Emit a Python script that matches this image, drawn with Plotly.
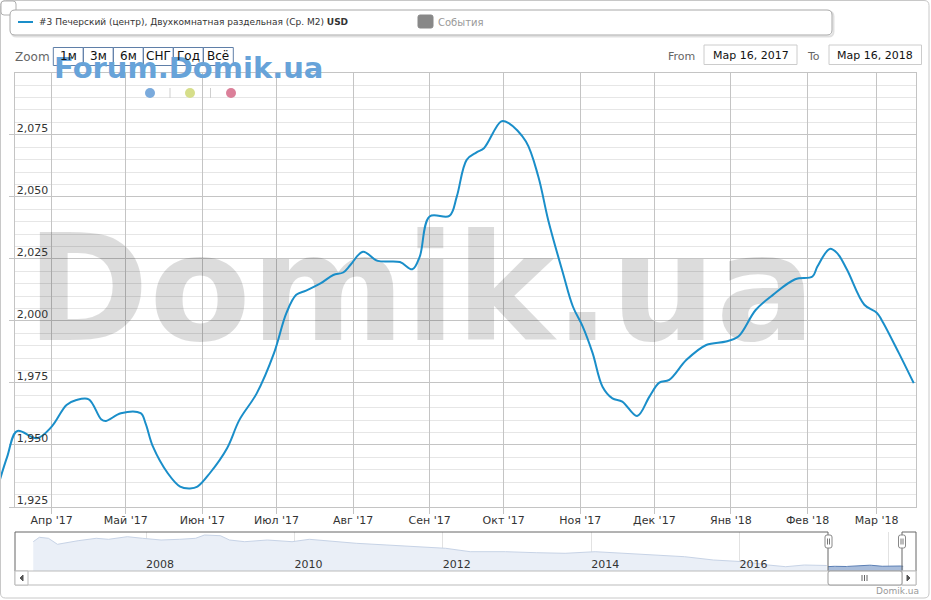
import plotly.graph_objects as go
import pandas as pd

# ---------------- data ----------------
dates = [
    "2017-03-11", "2017-03-14", "2017-03-18", "2017-03-26", "2017-04-01", "2017-04-07", "2017-04-11", "2017-04-16",
    "2017-04-21", "2017-04-23", "2017-04-29", "2017-05-07", "2017-05-09", "2017-05-12", "2017-05-18", "2017-05-23",
    "2017-05-27", "2017-05-30", "2017-06-04", "2017-06-11", "2017-06-16", "2017-06-23", "2017-06-30", "2017-07-05",
    "2017-07-09", "2017-07-13", "2017-07-19", "2017-07-24", "2017-07-28", "2017-07-31", "2017-08-05", "2017-08-11",
    "2017-08-20", "2017-08-25", "2017-08-28", "2017-09-01", "2017-09-09", "2017-09-12", "2017-09-16", "2017-09-20",
    "2017-09-23", "2017-09-30", "2017-10-03", "2017-10-10", "2017-10-15", "2017-10-19", "2017-10-25", "2017-10-29",
    "2017-11-02", "2017-11-06", "2017-11-10", "2017-11-14", "2017-11-18", "2017-11-24", "2017-11-29", "2017-12-03",
    "2017-12-07", "2017-12-14", "2017-12-22", "2017-12-30", "2018-01-04", "2018-01-11", "2018-01-18", "2018-01-27",
    "2018-02-03", "2018-02-05", "2018-02-10", "2018-02-13", "2018-02-17", "2018-02-24", "2018-03-01", "2018-03-03",
    "2018-03-10", "2018-03-16"]
prices = [
    1935.9, 1945.3, 1955.6, 1952.7, 1957.4, 1966.1, 1968.1, 1968.4,
    1960.4, 1959.7, 1962.8, 1962.8, 1958.7, 1949.3, 1938.6, 1933.2,
    1932.5, 1933.2, 1938.6, 1948.7, 1960.1, 1970.8, 1987.0, 2003.1,
    2010.5, 2012.2, 2015.2, 2018.5, 2019.5, 2022.6, 2027.9, 2024.2,
    2023.7, 2020.8, 2025.9, 2042.1, 2042.3, 2050.1, 2064.9, 2067.9,
    2069.6, 2080.4, 2079.7, 2072.3, 2058.2, 2040.7, 2019.2, 2005.8,
    1997.7, 1987.0, 1973.5, 1968.8, 1967.5, 1961.7, 1969.5, 1975.1,
    1976.2, 1984.3, 1990.3, 1991.7, 1993.7, 2004.4, 2010.5, 2016.8,
    2017.9, 2021.9, 2029.0, 2027.3, 2020.6, 2006.5, 2003.3, 2000.4,
    1987.0, 1974.9]

nav_dates = [
    "2006-06-25", "2006-07-25", "2006-09-08", "2006-10-22", "2007-02-01", "2007-05-01", "2007-07-01", "2007-10-01",
    "2007-12-15", "2008-03-15", "2008-06-15", "2008-09-01", "2008-10-15", "2009-01-01", "2009-02-15", "2009-05-01",
    "2009-08-20", "2009-12-20", "2010-03-15", "2010-06-10", "2010-11-01", "2011-04-01", "2011-08-25", "2012-01-15",
    "2012-05-15", "2012-11-05", "2013-04-05", "2013-08-25", "2014-01-20", "2014-06-01", "2014-11-10", "2015-04-05",
    "2015-08-25", "2016-01-20", "2016-05-20", "2016-08-15", "2016-11-15", "2017-03-05"]
nav_prices = [
    4430, 4870, 4770, 4170, 4530, 4770, 4670, 4930,
    4770, 4600, 4670, 4770, 5100, 5030, 4600, 4430,
    4600, 4430, 4670, 4500, 4270, 4100, 3930, 3770,
    3430, 3430, 3330, 3270, 3430, 3270, 3100, 2930,
    2600, 2430, 2100, 1930, 2100, 2050]

month_ticks = ["2017-04-01", "2017-05-01", "2017-06-01", "2017-07-01", "2017-08-01", "2017-09-01",
               "2017-10-01", "2017-11-01", "2017-12-01", "2018-01-01", "2018-02-01", "2018-03-01"]
month_labels = ["Апр '17", "Май '17", "Июн '17", "Июл '17", "Авг '17", "Сен '17",
                "Окт '17", "Ноя '17", "Дек '17", "Янв '18", "Фев '18", "Мар '18"]
year_ticks = ["2008-01-01", "2010-01-01", "2012-01-01", "2014-01-01", "2016-01-01", "2018-01-01"]
year_labels = ["2008", "2010", "2012", "2014", "2016", "2018"]
zoom_buttons = ["1м", "3м", "6м", "СНГ", "Год", "Всё"]
date_from, date_to = "Мар 16, 2017", "Мар 16, 2018"
series_name = "#3 Печерский (центр), Двухкомнатная раздельная (Ср. М2) <b>USD</b>"

# ---------------- layout helpers ----------------
W, H = 931, 600
FONT = "DejaVu Sans"
LINE = "#1a8ec9"


def X(p):
    return p / W


def Y(p):
    return 1 - p / H


APR1 = pd.Timestamp("2017-04-01")
APR1_X, PX_DAY = 51.7, 2.47


def xdate(px):
    return APR1 + pd.Timedelta(days=(px - APR1_X) / PX_DAY)


Y2008 = pd.Timestamp("2008-01-01")
Y2008_X, PX_YEAR = 146, 74.2


def navdate(px):
    return Y2008 + pd.Timedelta(days=(px - Y2008_X) / PX_YEAR * 365.25)


Y_RANGE = [1925, 2099.9]

fig = go.Figure()

# big background watermark (drawn first -> below the line)
fig.add_trace(go.Scatter(
    x=[xdate(421)], y=[Y_RANGE[0] + (Y_RANGE[1] - Y_RANGE[0]) * 0.47], mode="text", text=["Domik.ua"],
    textposition="middle center",
    textfont=dict(family=FONT, size=148, color="rgba(0,0,0,0.137)", weight="bold"),
    hoverinfo="skip", showlegend=False))

fig.add_trace(go.Scatter(
    x=dates, y=prices, mode="lines",
    line=dict(color=LINE, width=2, shape="spline", smoothing=1, simplify=False),
    hoverinfo="skip", showlegend=False))

# part of the line that overflows left of the plot area
fig.add_trace(go.Scatter(
    x=dates[:10], y=prices[:10], mode="lines", xaxis="x3", yaxis="y3",
    line=dict(color=LINE, width=2, shape="spline", smoothing=1, simplify=False),
    hoverinfo="skip", showlegend=False))

# navigator
fig.add_trace(go.Scatter(
    x=nav_dates, y=nav_prices, mode="lines", xaxis="x2", yaxis="y2", fill="tozeroy",
    fillcolor="#eaeff7", line=dict(color="#c7d3e6", width=1),
    hoverinfo="skip", showlegend=False))
fig.add_trace(go.Scatter(
    x=dates, y=prices, mode="lines", xaxis="x2", yaxis="y2", fill="tozeroy",
    fillcolor="#a9bddb", line=dict(color="#5b7fb5", width=1),
    hoverinfo="skip", showlegend=False))

tickfont = dict(family=FONT, size=11, color="#333333")
GRID = "#c4c4c4"

fig.update_layout(
    width=W, height=H, autosize=False,
    margin=dict(l=0, r=0, t=0, b=0),
    paper_bgcolor="white", plot_bgcolor="white",
    showlegend=False,
    xaxis=dict(domain=[X(15), X(916)], range=[xdate(15), xdate(916)], type="date",
               tickmode="array", tickvals=month_ticks, ticktext=month_labels,
               showgrid=True, gridcolor=GRID, gridwidth=1,
               ticks="outside", ticklen=6, tickcolor=GRID,
               showline=True, linecolor=GRID, mirror=True, ticklabelstandoff=-3,
               tickfont=tickfont, zeroline=False, anchor="y", fixedrange=True),
    yaxis=dict(domain=[Y(507), Y(73)], range=Y_RANGE, tickmode="linear", tick0=1925, dtick=25,
               tickformat=",d", showgrid=True, gridcolor=GRID,
               minor=dict(tick0=1925, dtick=5, showgrid=True, gridcolor="#e6e6e6"),
               ticks="outside", ticklen=5, tickcolor=GRID,
               showline=True, linecolor=GRID, mirror=True,
               ticklabelposition="inside", ticklabelshift=-7, ticklabelstandoff=1,
               tickfont=tickfont, zeroline=False, anchor="x", fixedrange=True),
    xaxis2=dict(domain=[X(15), X(916)], range=[navdate(15), navdate(916)], type="date",
                tickmode="array", tickvals=year_ticks, ticktext=year_labels,
                ticklabelposition="inside right", ticklabelstandoff=-5,
                showgrid=True, gridcolor="#e2e2e2",
                ticks="", showline=False, zeroline=False, anchor="y2",
                tickfont=tickfont, fixedrange=True),
    yaxis2=dict(domain=[Y(571), Y(532)], range=[1500, 5400], visible=False, anchor="x2",
                fixedrange=True),
    xaxis3=dict(domain=[0, X(15)], range=[xdate(0), xdate(15)], type="date", visible=False,
                anchor="y3", fixedrange=True),
    yaxis3=dict(domain=[Y(507), Y(73)], range=Y_RANGE, visible=False, anchor="x3",
                fixedrange=True),
)


def rrect(x0, y0, x1, y1, r):
    return (f"M{X(x0 + r)},{Y(y0)} L{X(x1 - r)},{Y(y0)} Q{X(x1)},{Y(y0)} {X(x1)},{Y(y0 + r)} "
            f"L{X(x1)},{Y(y1 - r)} Q{X(x1)},{Y(y1)} {X(x1 - r)},{Y(y1)} L{X(x0 + r)},{Y(y1)} "
            f"Q{X(x0)},{Y(y1)} {X(x0)},{Y(y1 - r)} L{X(x0)},{Y(y0 + r)} Q{X(x0)},{Y(y0)} {X(x0 + r)},{Y(y0)} Z")


def rect(x0, y0, x1, y1, line, fill="rgba(0,0,0,0)", width=1):
    return dict(type="rect", xref="paper", yref="paper", x0=X(x0), x1=X(x1), y0=Y(y1), y1=Y(y0),
                line=dict(color=line, width=width), fillcolor=fill)


def path(d, line, fill="rgba(0,0,0,0)", width=1):
    return dict(type="path", xref="paper", yref="paper", path=d,
                line=dict(color=line, width=width), fillcolor=fill)


def seg(x0, y0, x1, y1, color, width=1):
    return dict(type="line", xref="paper", yref="paper", x0=X(x0), x1=X(x1), y0=Y(y0), y1=Y(y1),
                line=dict(color=color, width=width))


def ann(text, x, y, size, color, xanchor="left", weight="normal"):
    return dict(text=text, x=X(x), y=Y(y), xref="paper", yref="paper", showarrow=False,
                xanchor=xanchor, yanchor="middle",
                font=dict(family=FONT, size=size, color=color, weight=weight))


shapes = []
# outer container
shapes.append(path(rrect(0.5, 0.5, 929, 598, 5), "#c8c8c8"))
# top-left small tab
shapes.append(path(rrect(1, 1, 16, 15, 3), "#b0b0b0", "white"))
# legend box with shadow
shapes.append(path(rrect(11.5, 11.5, 833.5, 36.5, 5), "rgba(0,0,0,0.12)", width=2))
shapes.append(path(rrect(10, 10, 832, 35, 5), "#a8a8a8", "white"))
shapes.append(seg(18, 22, 33, 22, LINE, 2))
shapes.append(path(rrect(418, 15, 433, 28, 2), "#888888", "#888888"))
# zoom buttons
bx = 53.3
for i, _ in enumerate(zoom_buttons):
    shapes.append(rect(bx + i * 30, 47.5, bx + (i + 1) * 30, 65.5, "#5f7fa8"))
# date boxes
shapes.append(rect(704, 45, 797, 64.5, "#cccccc"))
shapes.append(rect(829, 45, 921.5, 64.5, "#cccccc"))
# forum watermark dots
for cx, col in [(150, "#7aaadc"), (190, "#d6de8a"), (231, "#db7f99")]:
    shapes.append(dict(type="circle", xref="paper", yref="paper",
                       x0=X(cx - 5), x1=X(cx + 5), y0=Y(98), y1=Y(88),
                       line=dict(width=0), fillcolor=col))
shapes.append(seg(170, 88, 170, 98, "#cfcfcf"))
shapes.append(seg(210.5, 88, 210.5, 98, "#cfcfcf"))
# navigator outline
shapes.append(path(f"M{X(15)},{Y(571)} L{X(15)},{Y(532)} L{X(828)},{Y(532)} L{X(828)},{Y(571)}", "#666666"))
shapes.append(path(f"M{X(902)},{Y(571)} L{X(902)},{Y(532)} L{X(916)},{Y(532)} L{X(916)},{Y(571)}", "#666666"))
# scrollbar
shapes.append(rect(15, 571, 916, 585, "#bbbbbb", "white"))
shapes.append(rect(15, 571, 28, 585, "#bbbbbb", "white"))
shapes.append(rect(902, 571, 916, 585, "#bbbbbb", "white"))
shapes.append(path(rrect(828, 571, 902, 585, 2), "#999999", "white"))
shapes.append(path(f"M{X(23)},{Y(575)} L{X(20)},{Y(578)} L{X(23)},{Y(581)} Z", "#555555", "#555555"))
shapes.append(path(f"M{X(907)},{Y(575)} L{X(910)},{Y(578)} L{X(907)},{Y(581)} Z", "#555555", "#555555"))
for gx in (862, 864.5, 867):
    shapes.append(seg(gx, 575, gx, 581, "#666666"))
# navigator handles
for hx in (828.5, 902):
    shapes.append(path(rrect(hx - 3.5, 535, hx + 3.5, 548, 2), "#888888", "white"))
    shapes.append(seg(hx - 1, 538.5, hx - 1, 544.5, "#777777"))
    shapes.append(seg(hx + 1, 538.5, hx + 1, 544.5, "#777777"))

annotations = [
    ann(series_name, 37, 22.5, 9, "#333333"),
    ann("События", 436, 22.5, 10, "#999999"),
    ann("Zoom", 13, 57, 12, "#666666"),
    ann("From", 666, 56, 11, "#666666"),
    ann("To", 805, 56, 11, "#666666"),
    ann(date_from, 750.5, 55.5, 11, "#111111", "center"),
    ann(date_to, 875, 55.5, 11, "#111111", "center"),
    ann("Forum.Domik.ua", 52, 68.5, 29, "#67a3d9", "left", "bold"),
    ann("Domik.ua", 921, 591, 9, "#999999", "right"),
]
for i, lab in enumerate(zoom_buttons):
    annotations.append(ann(lab, bx + i * 30 + 15, 56.5, 12, "#111111", "center"))

fig.update_layout(shapes=shapes, annotations=annotations)

fig.write_html("out.html", config=dict(displayModeBar=False),
               post_script="document.body.style.margin='0';document.body.style.padding='0';")
